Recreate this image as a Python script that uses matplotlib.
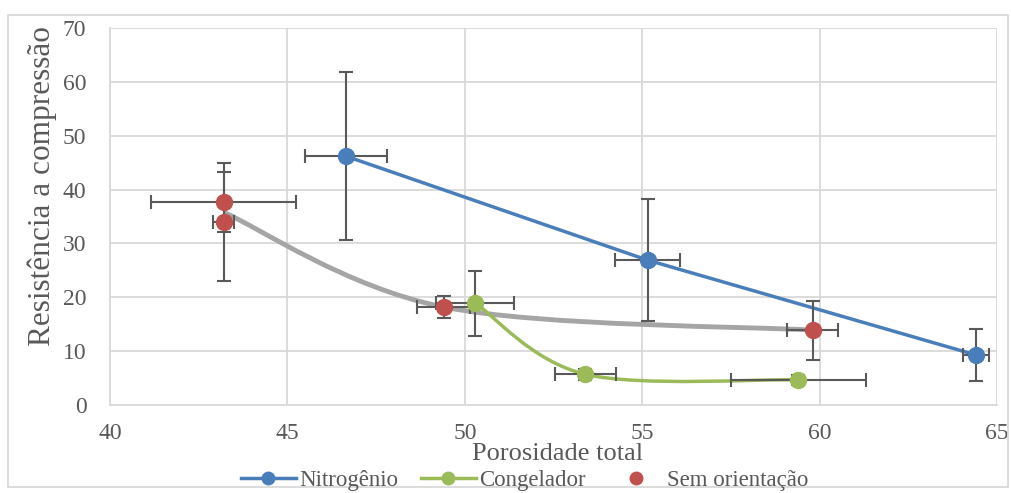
import matplotlib
matplotlib.use("Agg")
import matplotlib.pyplot as plt
import numpy as np
from matplotlib.path import Path
from matplotlib.patches import PathPatch, Rectangle
from matplotlib.lines import Line2D

plt.rcParams['font.family'] = ['Liberation Serif', 'DejaVu Serif']

# Data
nit_x = [46.65, 55.15, 64.4]
nit_y = [46.2, 26.9, 9.3]
nit_xerr = [1.15, 0.92, 0.37]
nit_yerr = [15.6, 11.3, 4.8]

cong_x = [50.3, 53.4, 59.4]
cong_y = [18.9, 5.7, 4.7]
cong_xerr = [1.1, 0.85, 1.9]
cong_yerr = [6.0, 1.0, 0.9]

sem_x = [43.2, 43.2, 49.4, 59.8]
sem_y = [37.7, 34.0, 18.2, 13.9]
sem_xerr = [2.05, 0.3, 0.75, 0.72]
sem_yerr = [5.6, 11.0, 2.1, 5.5]

trend_x = [43.2, 49.4, 59.8]
trend_y = [35.8, 18.2, 13.9]

xticks = [40, 45, 50, 55, 60, 65]
yticks = [0, 10, 20, 30, 40, 50, 60, 70]

BLUE = '#4A7EBB'
GREEN = '#9BBB59'
RED = '#C0504D'
GRAY = '#A5A5A5'
ERR = '#595959'
GRID = '#D9D9D9'
TXT = '#595959'


def smooth_path(xs, ys):
    """Excel-style smoothed line: cubic Bezier segments through the points."""
    pts = np.column_stack([xs, ys]).astype(float)
    n = len(pts)
    verts = [tuple(pts[0])]
    codes = [Path.MOVETO]
    for i in range(n - 1):
        p0 = pts[i - 1] if i > 0 else pts[i]
        p1 = pts[i]
        p2 = pts[i + 1]
        p3 = pts[i + 2] if i + 2 < n else pts[i + 1]
        c1 = p1 + (p2 - p0) / 6.0
        c2 = p2 - (p3 - p1) / 6.0
        verts += [tuple(c1), tuple(c2), tuple(p2)]
        codes += [Path.CURVE4] * 3
    return Path(verts, codes)


fig = plt.figure(figsize=(10.11, 4.93), dpi=100)
ax = fig.add_axes([0.1088, 0.1785, 0.8774, 0.7647])

ax.set_xlim(40, 65)
ax.set_ylim(0, 70)
ax.set_xticks(xticks)
ax.set_yticks(yticks)
ax.grid(True, color=GRID, linewidth=1.3)
ax.set_axisbelow(True)
for s in ['top', 'right']:
    ax.spines[s].set_visible(False)
for s in ['left', 'bottom']:
    ax.spines[s].set_color(GRID)
    ax.spines[s].set_linewidth(1.3)
ax.tick_params(length=0, labelsize=17, labelcolor=TXT)
ax.tick_params(axis='x', pad=13)
ax.tick_params(axis='y', pad=17)

eb_kw = dict(fmt='none', ecolor=ERR, elinewidth=1.5, capsize=5, capthick=1.5, zorder=3)

# gray smoothed trend
ax.add_patch(PathPatch(smooth_path(trend_x, trend_y), facecolor='none',
                       edgecolor=GRAY, linewidth=3.5, zorder=2.5))

# Nitrogenio
ax.plot(nit_x, nit_y, color=BLUE, linewidth=2.5, zorder=2.6)
ax.errorbar(nit_x, nit_y, xerr=nit_xerr, yerr=nit_yerr, **eb_kw)
ax.plot(nit_x, nit_y, 'o', color=BLUE, markersize=11.5, zorder=4)

# Congelador
ax.add_patch(PathPatch(smooth_path(cong_x, cong_y), facecolor='none',
                       edgecolor=GREEN, linewidth=2.5, zorder=2.6))
ax.errorbar(cong_x, cong_y, xerr=cong_xerr, yerr=cong_yerr, **eb_kw)
ax.plot(cong_x, cong_y, 'o', color=GREEN, markersize=11.5, zorder=4)

# Sem orientacao
ax.errorbar(sem_x, sem_y, xerr=sem_xerr, yerr=sem_yerr, **eb_kw)
ax.plot(sem_x, sem_y, 'o', color=RED, markersize=11.5, zorder=4)

ax.set_xlabel('Porosidade total', fontsize=19, color=TXT)
ax.xaxis.set_label_coords(0.504, -0.1)
ax.set_ylabel('Resistência a compressão', fontsize=22.5, color=TXT)
ax.yaxis.set_label_coords(-0.06, 0.58)

handles = [
    Line2D([], [], color=BLUE, linewidth=2.5, marker='o', markersize=9),
    Line2D([], [], color=GREEN, linewidth=2.5, marker='o', markersize=9),
    Line2D([], [], color=RED, linestyle='none', marker='o', markersize=9),
]
leg = fig.legend(handles, ['Nitrogênio', 'Congelador', 'Sem orientação'],
                 loc='center', bbox_to_anchor=(0.519, 0.026), ncol=3, frameon=False,
                 fontsize=16.5, handlelength=2.4, columnspacing=1.0, handletextpad=0.15)
for t in leg.get_texts():
    t.set_color(TXT)

fig.patches.append(Rectangle((0.008, 0.012), 0.989, 0.958, transform=fig.transFigure,
                             fill=False, edgecolor=GRID, linewidth=1.3))

fig.savefig('out.png', dpi=100)
